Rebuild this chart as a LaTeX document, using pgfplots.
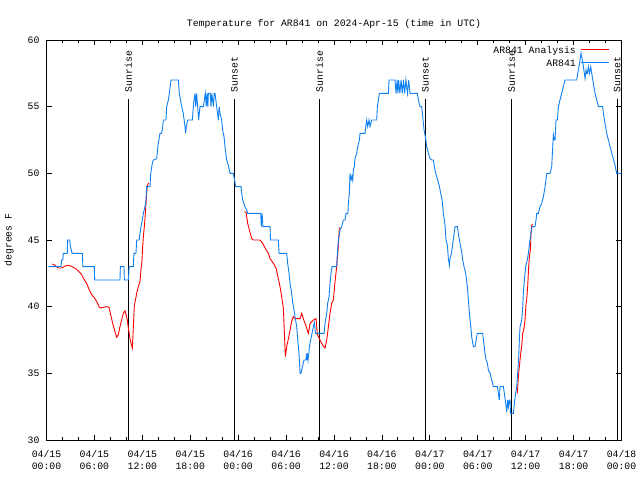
\documentclass[border=0pt]{standalone}
\usepackage{fontspec}
\setmainfont{Liberation Mono}
\usepackage{pgfplots}
\pgfplotsset{compat=1.18}
\definecolor{myblue}{RGB}{16,128,240}
\newcommand{\gfont}{\fontsize{9.8}{12}\selectfont}
\begin{document}
\begin{tikzpicture}[x=1pt,y=1pt]
\path[use as bounding box] (0,0) rectangle (640,480);
\begin{axis}[
  at={(46.5pt,40pt)}, anchor=south west,
  width=575pt, height=400pt, scale only axis,
  xmin=0, xmax=72, ymin=30, ymax=60,
  xtick={0,6,...,72},
  xticklabels={{04/15\\00:00},{04/15\\06:00},{04/15\\12:00},{04/15\\18:00},{04/16\\00:00},{04/16\\06:00},{04/16\\12:00},{04/16\\18:00},{04/17\\00:00},{04/17\\06:00},{04/17\\12:00},{04/17\\18:00},{04/18\\00:00}},
  xticklabel style={align=center, font=\gfont, yshift=-7pt},
  minor x tick num=2,
  ytick={30,35,...,60},
  yticklabel style={font=\gfont, xshift=-3.5pt},
  /pgf/number format/assume math mode=true,
  tick align=inside,
  major tick length=5pt, minor tick length=3pt,
  tick style={black, line width=0.8pt},
  axis line style={black, line width=0.8pt},
  title={Temperature for AR841 on 2024-Apr-15 (time in UTC)},
  title style={font=\gfont, at={(0.5,1)}, anchor=base, yshift=7.5pt},
  ylabel={degrees F},
  ylabel style={font=\gfont, at={(axis description cs:-0.065,0.5)}, anchor=center},
  legend style={at={(rel axis cs:1,1)}, anchor=north east, xshift=-44pt, yshift=-5pt, draw=none, fill=none, font=\gfont, inner sep=0pt, row sep=1.5pt, nodes={inner sep=1.5pt}},
  legend cell align=right,
  legend plot pos=right,
  legend image code/.code={},
]
% Sunrise / sunset markers
\draw[black, line width=0.8pt] (axis cs:10.24,30) -- (axis cs:10.24,55.55);
\draw[black, line width=0.8pt] (axis cs:23.52,30) -- (axis cs:23.52,55.55);
\draw[black, line width=0.8pt] (axis cs:34.16,30) -- (axis cs:34.16,55.55);
\draw[black, line width=0.8pt] (axis cs:47.43,30) -- (axis cs:47.43,55.55);
\draw[black, line width=0.8pt] (axis cs:58.20,30) -- (axis cs:58.20,55.55);
\draw[black, line width=0.8pt] (axis cs:71.47,30) -- (axis cs:71.47,55.55);
\node[rotate=90, anchor=west, inner sep=0pt, font=\gfont] at ([yshift=7pt]axis cs:10.24,55.55) {Sunrise};
\node[rotate=90, anchor=west, inner sep=0pt, font=\gfont] at ([yshift=7pt]axis cs:23.52,55.55) {Sunset};
\node[rotate=90, anchor=west, inner sep=0pt, font=\gfont] at ([yshift=7pt]axis cs:34.16,55.55) {Sunrise};
\node[rotate=90, anchor=west, inner sep=0pt, font=\gfont] at ([yshift=7pt]axis cs:47.43,55.55) {Sunset};
\node[rotate=90, anchor=west, inner sep=0pt, font=\gfont] at ([yshift=7pt]axis cs:58.20,55.55) {Sunrise};
\node[rotate=90, anchor=west, inner sep=0pt, font=\gfont] at ([yshift=7pt]axis cs:71.47,55.55) {Sunset};

% Analysis (red)
\addplot[red, line width=0.9pt] coordinates {
(0.73,43.2) (1.06,43.1) (1.48,42.9) (1.90,42.9) (2.32,43.05) (2.73,43.1) (3.07,43.05) (3.36,42.95) (3.78,42.8) (4.11,42.6) (4.40,42.4) (4.70,42.05) (5.03,41.75) (5.36,41.25) (5.66,40.9) (5.95,40.7) (6.28,40.4) (6.62,39.95) (6.82,39.9) (7.12,39.95) (7.53,40) (7.83,39.95) (8.03,39.4) (8.29,38.75) (8.58,38.1) (8.79,37.7) (9.0,37.9) (9.20,38.5) (9.41,39) (9.62,39.5) (9.83,39.7) (9.96,39.4) (10.12,39) (10.25,38.4) (10.46,37.6) (10.58,37.25) (10.75,36.9) (10.87,38.4) (11.0,40.1) (11.17,40.6) (11.29,41) (11.5,41.5) (11.71,41.9) (11.83,42.75) (11.96,43.5) (12.04,44.5) (12.13,45.25) (12.25,46) (12.33,46.6) (12.46,47.75) (12.54,48.5) (12.63,49.1) (12.75,49.25) (12.83,49.25)
};
\addlegendentry{AR841 Analysis}
\addplot[red, line width=0.9pt, forget plot] coordinates {
(24.74,47.1) (24.99,47.1) (25.19,46.25) (25.40,45.75) (25.70,45.1) (25.90,45) (26.53,45) (26.74,45) (27.07,44.75) (27.37,44.4) (27.78,44) (27.99,43.6) (28.41,43.25) (28.74,42.9) (29.03,42.1) (29.24,41.5) (29.45,40.75) (29.66,39.9) (29.79,38) (29.91,36.25) (30.08,37) (30.29,37.6) (30.50,38.25) (30.70,38.9) (30.91,39.25) (31.12,39.1) (31.54,39.1) (31.75,39.1) (31.96,39.5) (32.16,39.1) (32.37,38.75) (32.58,38.4) (32.79,38) (33.0,38.75) (33.42,39) (33.75,39.1) (33.92,37.9) (34.25,37.5) (34.59,37.1) (34.88,36.9) (35.09,37.5) (35.30,38.5) (35.50,39.5) (35.71,40.25) (35.92,40.5) (36.13,41.9) (36.34,43) (36.55,44.6) (36.67,45.9) (36.88,45.9)
};
\addplot[red, line width=0.9pt, forget plot] coordinates {
(58.96,33.5) (59.09,34.75) (59.21,35.5) (59.38,36.5) (59.51,37.1) (59.63,38) (59.80,38.4) (59.92,39) (60.05,40.25) (60.13,40.5) (60.26,41.6) (60.38,43) (60.47,43.75) (60.59,44.25) (60.67,45.5) (60.76,46.1) (60.88,46.2)
};

% Observed (blue)
\addplot[myblue, line width=0.9pt] coordinates {
(0.23,43) (1.82,43) (1.9,43.5) (2.05,43.5) (2.1,44) (2.6,44) (2.65,45) (2.9,45) (3.0,44.5) (3.2,44) (4.5,44) (4.55,43) (5.99,43) (6.03,42) (9.2,42) (9.25,43) (9.7,43) (9.75,42) (10.25,42) (10.35,43) (10.87,43) (10.95,44) (11.2,44) (11.3,45) (11.6,45) (11.71,45.5) (11.83,46) (12.0,46.5) (12.13,47) (12.33,47.5) (12.46,48) (12.54,49) (12.96,49) (13.05,50) (13.25,50.75) (13.38,51) (13.80,51.1) (13.9,51.75) (14.0,52.25) (14.21,53) (14.42,53) (14.55,53.5) (14.63,54) (14.96,54) (15.05,55) (15.26,55.5) (15.38,56) (15.51,56.6) (15.59,57) (16.51,57) (16.63,56) (16.93,55) (17.13,54.5) (17.34,53.5) (17.42,53) (17.5,53.5) (17.68,54) (18.26,54) (18.39,55) (18.47,55.5) (18.59,56) (18.68,55) (18.8,56) (18.93,55) (19.05,54) (19.22,55) (19.64,55) (19.76,55.5) (19.89,56) (20.0,55) (20.1,56) (20.2,55) (20.27,56) (20.5,56) (20.6,55) (20.7,56) (20.9,55) (21.0,56) (21.1,56) (21.31,55) (21.52,54) (21.62,55) (21.73,54.5) (21.93,54) (22.06,53.25) (22.23,52.75) (22.35,52) (22.56,51) (22.77,50.6) (22.98,50) (23.4,50) (23.55,49.5) (23.69,49) (24.36,49) (24.44,48.5) (24.57,48) (24.86,47.5) (25.07,47.25) (25.19,47) (26.82,47) (26.9,46) (27.0,47) (27.1,46) (27.99,46) (28.05,45) (29.03,45) (29.12,44) (30.08,44) (30.2,43.25) (30.37,42.5) (30.5,41.75) (30.7,41) (30.83,40.3) (31.0,39.75) (31.12,39.25) (31.33,38.5) (31.46,37.5) (31.62,36.5) (31.75,35) (31.87,35) (32.04,35.5) (32.25,36) (32.5,36) (32.55,36.5) (32.6,36) (32.67,36.5) (32.75,36) (32.85,36.5) (32.92,37) (33.08,37.5) (33.25,38) (33.42,38.5) (33.55,38.8) (33.68,38) (34.75,38) (34.88,38.75) (35.09,39.5) (35.21,40.25) (35.38,40.75) (35.5,41.75) (35.63,42.5) (35.75,43) (36.34,43) (36.42,44) (36.55,45) (36.76,45.75) (36.97,46) (37.17,46.5) (37.38,46.5) (37.51,47) (37.75,47) (37.8,47.75) (37.92,48.5) (38.01,50) (38.13,49.5) (38.25,49.8) (38.34,49.5) (38.43,50.25) (38.55,50.5) (38.63,51.1) (38.84,51.5) (38.97,52) (39.18,52.5) (39.26,53) (39.89,53) (39.97,53.5) (40.1,54) (40.22,53.5) (40.39,54) (40.51,53.5) (40.72,54) (41.35,54) (41.43,55) (41.56,55.5) (41.68,56) (42.81,56) (42.89,57) (43.64,57) (43.77,56) (43.9,57) (44.0,56) (44.1,57) (44.25,56) (44.4,57) (44.55,56) (44.7,57) (44.85,56) (45.0,57) (45.2,56) (45.35,57) (45.52,56) (46.44,56) (46.57,55.5) (46.77,55) (46.98,55) (47.11,54.25) (47.28,53.25) (47.44,52.75) (47.61,52) (47.82,51.5) (48.03,51.1) (48.24,51) (48.44,51) (48.57,50.5) (48.74,50) (48.99,49.5) (49.2,49) (49.36,48.5) (49.53,48) (49.7,47) (49.9,46.1) (50.03,45) (50.2,44.6) (50.32,43.6) (50.45,43.1) (50.53,43.6) (50.74,44.1) (50.95,45.1) (51.16,46) (51.45,46) (51.57,45.5) (51.78,44.75) (51.99,44.1) (52.12,43.5) (52.28,43) (52.49,42.5) (52.7,41.5) (52.83,40.5) (52.95,39.5) (53.12,38.6) (53.24,37.75) (53.45,37) (53.66,37) (53.79,37.5) (53.95,38) (54.62,38) (54.71,37.5) (54.91,36.5) (55.04,36) (55.21,35.75) (55.33,35.25) (55.54,35) (55.75,34.5) (55.96,34) (56.46,34) (56.58,33.5) (56.7,33) (56.79,34) (57.0,34) (57.21,34) (57.33,33.5) (57.5,32.75) (57.63,32.1) (57.75,33) (57.84,32.5) (57.95,33) (58.04,33) (58.1,32) (58.46,32) (58.59,32.75) (58.75,33.5) (58.88,34) (59.0,35) (59.13,36.25) (59.21,37.5) (59.3,38.5) (59.51,39) (59.63,40) (59.71,41) (59.84,42) (60.0,43) (60.22,43.55) (60.34,44) (60.55,45.05) (60.67,45.5) (60.8,46) (61.17,46) (61.3,46.5) (61.38,47) (61.6,47) (61.8,47.5) (62.01,47.75) (62.22,48.25) (62.43,49) (62.64,50) (63.05,50) (63.26,50.5) (63.39,52) (63.47,52.9) (63.6,52.5) (63.68,52.5) (63.8,54) (63.97,54) (64.1,55) (64.3,55.5) (64.51,56) (64.72,56.5) (64.93,57) (66.39,57) (66.52,57.5) (66.68,58) (66.81,58.5) (66.93,59) (67.1,58.5) (67.23,58) (67.35,57.5) (67.44,57.1) (67.56,57.75) (67.65,57.5) (67.73,57.5) (67.85,58) (67.98,57.5) (68.15,58) (68.27,57.5) (68.48,56.75) (68.69,56) (68.9,55.5) (69.11,55) (69.65,55) (69.73,54.5) (69.94,53.75) (70.15,53) (70.36,52.5) (70.57,52) (70.78,51.5) (70.98,51.1) (71.19,50.6) (71.4,50) (72,50)
};
\addlegendentry{AR841}
% legend sample lines
\draw[red, line width=0.9pt] (axis cs:66.93,59.325) -- (axis cs:70.44,59.325);
\draw[myblue, line width=0.9pt] (axis cs:66.93,58.35) -- (axis cs:70.44,58.35);
\end{axis}
\end{tikzpicture}
\end{document}
